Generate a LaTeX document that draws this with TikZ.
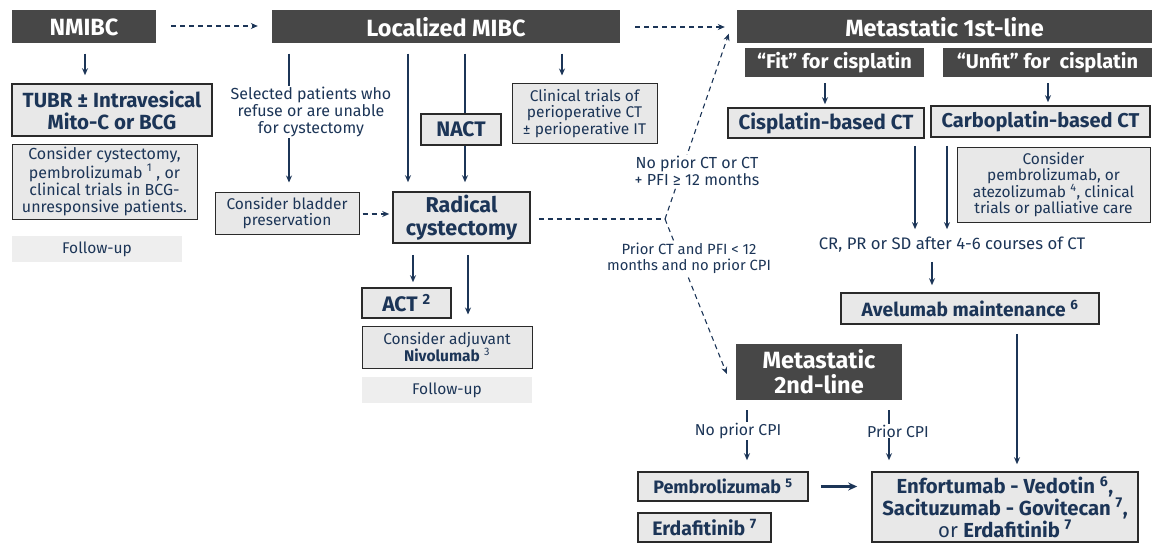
\documentclass[tikz,border=0pt]{standalone}
\usepackage{fontspec}
\setmainfont{Fira Sans}
\usetikzlibrary{arrows.meta,calc}
\definecolor{hdrgray}{HTML}{474747}
\definecolor{navy}{HTML}{1C3557}
\definecolor{boxfill}{HTML}{E8E8E8}
\definecolor{fupfill}{HTML}{EEEEEE}
\definecolor{boxline}{HTML}{2A2A2A}
\newcommand{\fs}[1]{\fontsize{#1}{\dimexpr #1pt*107/100\relax}\selectfont}
\tikzset{
  hdr/.style={fill=hdrgray, text=white, inner sep=0pt, font=\bfseries\fs{23.5}, align=center},
  bbox/.style={fill=boxfill, draw=boxline, line width=1.6pt, text=navy, inner sep=0pt, font=\bfseries\fs{21}, align=center},
  nbox/.style={fill=boxfill, draw=boxline, line width=1pt, text=navy, inner sep=0pt, font=\fs{16}, align=center},
  fup/.style={fill=fupfill, text=navy, inner sep=0pt, font=\fs{15.5}},
  lbl/.style={fill=white, text=navy, inner sep=1pt, font=\fs{16}, align=center},
  conn/.style={draw=navy, line width=1.1pt},
  arr/.style={conn, -{Stealth[length=7pt,width=6pt]}},
  darr/.style={conn, dash pattern=on 5pt off 4pt, -{Stealth[length=7pt,width=6pt]}},
  dln/.style={conn, dash pattern=on 5pt off 4pt},
}
\begin{document}
\begin{tikzpicture}[x=1pt,y=-1pt]
\useasboundingbox (0,0) rectangle (1152,543);
% header boxes
\node[hdr, minimum width=144, minimum height=33] (nmibc) at (84,27) {NMIBC};
\node[hdr, minimum width=348, minimum height=33] (loc) at (446,27) {Localized MIBC};
\node[hdr, minimum width=415, minimum height=33] (met1) at (944.5,27) {Metastatic 1st-line};
\node[hdr, minimum width=179, minimum height=29, font=\bfseries\fs{20}] (fit) at (834.5,62.5) {“Fit” for cisplatin};
\node[hdr, minimum width=209, minimum height=29, font=\bfseries\fs{20}] (unfit) at (1047.5,62.5) {“Unfit” for\ \ cisplatin};
\node[hdr, minimum width=166, minimum height=56] (met2) at (819,372) {Metastatic\\2nd-line};
% left column
\node[bbox, minimum width=200, minimum height=52, font=\bfseries\fs{20.5}] (tubr) at (112,110) {TUBR ± Intravesical\\Mito-C or BCG};
\node[nbox, minimum width=185, minimum height=75] (conscys) at (104.5,181.5) {Consider cystectomy,\\pembrolizumab \textsuperscript{1} , or\\clinical trials in BCG-\\unresponsive patients.};
\node[fup, minimum width=170, minimum height=26] (fup1) at (97,249) {Follow-up};
% localized
\node[nbox, minimum width=144, minimum height=42, font=\fs{15.5}] (blad) at (287,213) {Consider bladder\\preservation};
\node[bbox, minimum width=137, minimum height=51, font=\bfseries\fs{21.5}] (rad) at (461.5,217.5) {Radical\\cystectomy};
\node[bbox, minimum width=80, minimum height=31] (nact) at (461,129.5) {NACT};
\node[nbox, minimum width=145, minimum height=59, font=\fs{15.5}] (clin) at (584.5,113.5) {Clinical trials of\\perioperative CT\\± perioperative IT};
\node[bbox, minimum width=89, minimum height=30] (act) at (406.5,303) {ACT \textsuperscript{2}};
\node[nbox, minimum width=170, minimum height=42, font=\fs{15.5}] (adj) at (447,347) {Consider adjuvant\\\textbf{Nivolumab} \textsuperscript{3}};
\node[fup, minimum width=170, minimum height=26] (fup2) at (447,390) {Follow-up};
% metastatic 1st line
\node[bbox, minimum width=196, minimum height=30, font=\bfseries\fs{20.5}] (cis) at (826,123) {Cisplatin-based CT};
\node[bbox, minimum width=219, minimum height=31, font=\bfseries\fs{20}] (carbo) at (1040.5,121.5) {Carboplatin-based CT};
\node[nbox, minimum width=193, minimum height=75, font=\fs{15.5}] (conspem) at (1053.5,184.5) {Consider\\pembrolizumab, or\\atezolizumab \textsuperscript{4}, clinical\\trials or palliative care};
\node[text=navy, inner sep=0pt, font=\fs{16.7}] (cr) at (952,245) {CR, PR or SD after 4-6 courses of CT};
\node[bbox, minimum width=258, minimum height=31, font=\bfseries\fs{19.2}] (ave) at (970,308.5) {Avelumab maintenance \textsuperscript{6}};
% 2nd line
\node[bbox, minimum width=170, minimum height=29, font=\bfseries\fs{18}] (pem) at (723,486.5) {Pembrolizumab \textsuperscript{5}};
\node[bbox, minimum width=133, minimum height=29, font=\bfseries\fs{19.5}] (erd) at (704.5,527.5) {Erdafitinib \textsuperscript{7}};
\node[bbox, minimum width=266, minimum height=70, font=\bfseries\fs{20.3}] (enf) at (1005,507) {Enfortumab - Vedotin \textsuperscript{6},\\Sacituzumab - Govitecan \textsuperscript{7},\\\mdseries or \bfseries Erdafitinib \textsuperscript{7}};
% branch point
\coordinate (br) at (665,219);
% connectors
\draw[arr] ($(nmibc.south)+(1,10)$) -- ($(tubr.north -| nmibc.south)+(1,-8)$);
\draw[darr] ($(nmibc.east)+(15,-1)$) -- ($(loc.west)+(-14,-1)$);
\draw[darr] ($(loc.east)+(15,0)$) -- ($(met1.west)+(-12,0)$);
\draw[arr] ($(loc.south -| blad.north)+(2,10)$) -- ($(blad.north)+(2,-9)$);
\node[lbl] (sel) at (311,112) {Selected patients who\\refuse or are unable\\for cystectomy};
\draw[darr] ($(blad.east)+(3,1)$) -- ($(rad.west |- blad.east)+(-3,1)$);
\draw[arr] ($(loc.south -| rad.north)+(-53.5,10)$) -- ($(rad.north)+(-53.5,-9)$);
\draw[conn] ($(loc.south -| nact.north)+(4,10)$) -- ($(nact.north)+(4,0)$);
\draw[arr] ($(nact.south)+(4,0)$) -- ($(rad.north)+(3.5,-9)$);
\draw[arr] ($(loc.south -| clin.north)+(-22.5,10)$) -- ($(clin.north)+(-22.5,-8)$);
\draw[arr] ($(rad.south -| act.north)+(6.5,11)$) -- ($(act.north)+(6.5,-5)$);
\draw[arr] ($(rad.south)+(6.5,11)$) -- ($(rad.south |- adj.north)+(6.5,-11)$);
\draw[dln] ($(rad.east)+(8,1.5)$) -- (br);
\draw[darr] (br) -- ($(met1.south west)+(-8,-10)$);
\draw[darr] (br) -- ($(met2.west)+(-9,2)$);
\node[lbl] (l1) at (697,171) {No prior CT or CT\\+ PFI ≥ 12 months};
\node[lbl, font=\fs{14.8}] (l2) at (689,258) {Prior CT and PFI < 12\\months and no prior CPI};
\draw[arr] ($(fit.south -| cis.north)+(-1,6)$) -- ($(cis.north)+(-1,-3)$);
\draw[arr] ($(unfit.south)+(0.5,6)$) -- ($(carbo.north -| unfit.south)+(0.5,-3)$);
\draw[arr] ($(cis.south)+(89,7)$) -- ($(cr.north -| cis.south)+(89,-8)$);
\draw[arr] ($(carbo.south)+(-93.5,8)$) -- ($(cr.north -| carbo.south)+(-93.5,-8)$);
\draw[arr] ($(cr.south)+(-20,9)$) -- ($(ave.north -| cr.south)+(-20,-7)$);
\draw[arr] ($(ave.south)+(47,9)$) -- ($(ave.south |- enf.north)+(47,-7)$);
\draw[arr] ($(met2.south)+(-72,10)$) -- ($(met2.south |- pem.north)+(-72,-11)$);
\node[lbl, font=\fs{15.8}] (l3) at (738,431) {No prior CPI};
\draw[arr] ($(met2.south)+(70,10)$) -- ($(met2.south |- enf.north)+(70,-11)$);
\node[lbl, font=\fs{15.8}] (l4) at (898,431) {Prior CPI};
\draw[draw=navy, line width=2.2pt, -{Stealth[length=9pt,width=8pt]}] ($(pem.east)+(12,0)$) -- ($(enf.west |- pem.east)+(-14,0)$);
\end{tikzpicture}
\end{document}
